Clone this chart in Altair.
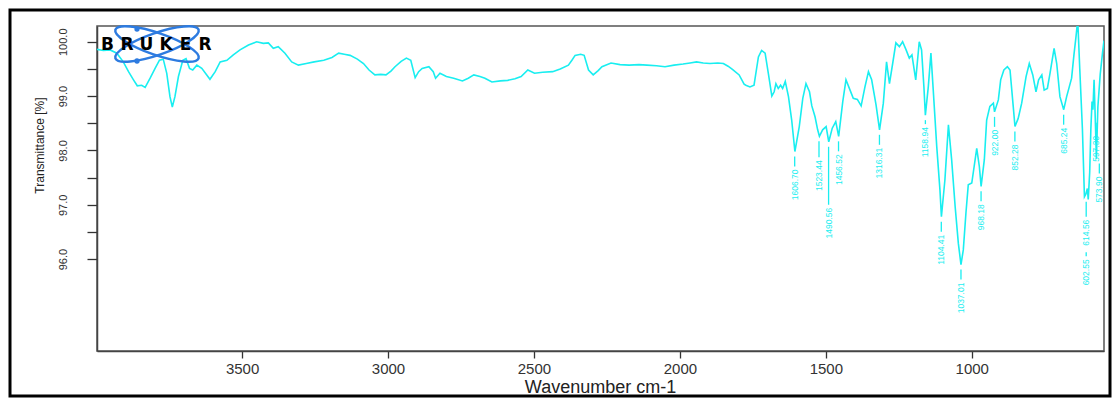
import altair as alt
import pandas as pd

# ---------------- data ----------------
wavenumber = [
    3997, 3975, 3952, 3929, 3907, 3889, 3872, 3859, 3844, 3832, 3815, 3798, 3783, 3770,
    3758, 3747, 3739, 3730, 3718, 3703, 3692, 3680, 3669, 3655, 3638, 3610, 3592, 3575,
    3552, 3530, 3507, 3478, 3450, 3427, 3410, 3393, 3376, 3353, 3330, 3307, 3280, 3253,
    3220, 3192, 3169, 3150, 3130, 3105, 3084, 3065, 3045, 3025, 3007, 2990, 2976, 2955,
    2937, 2922, 2907, 2895, 2883, 2860, 2845, 2837, 2822, 2800, 2775, 2745, 2725, 2706,
    2685, 2668, 2644, 2615, 2590, 2565, 2544, 2521, 2498, 2470, 2436, 2410, 2382, 2370,
    2359, 2340, 2328, 2313, 2297, 2280, 2267, 2236, 2205, 2174, 2140, 2113, 2080, 2051,
    2020, 1989, 1965, 1943, 1920, 1897, 1870, 1851, 1835, 1820, 1797, 1780, 1774, 1760,
    1746, 1731, 1720, 1708, 1697, 1685,
    1677, 1671, 1663, 1655, 1648, 1639, 1628, 1617, 1606, 1591, 1579, 1568, 1556, 1548,
    1537, 1528, 1522, 1511, 1499, 1490, 1478, 1466, 1456, 1442, 1431, 1417, 1406, 1392,
    1379, 1366, 1354, 1343, 1328, 1316, 1303, 1292, 1282, 1271, 1260, 1248, 1237, 1225,
    1214, 1205, 1192, 1180, 1172, 1164, 1159, 1149, 1140, 1132, 1120, 1109, 1104, 1092,
    1080, 1069, 1057, 1046, 1037, 1029, 1020, 1012, 1000, 992, 983, 974, 968, 957,
    949, 938, 926, 922, 909, 901, 890, 878, 869, 858, 852, 841, 829, 814,
    803, 791, 780, 771, 760, 752, 741, 732, 718, 709, 698, 685, 675, 666,
    658, 650, 643, 637, 630, 621, 614, 609, 604, 601, 596, 592, 588, 585,
    581, 577, 573, 568, 560, 552, 547,
]
transmittance = [
    99.86, 99.84, 99.85, 99.79, 99.63, 99.45, 99.30, 99.19, 99.20, 99.16, 99.33, 99.51, 99.66, 99.68,
    99.42, 98.99, 98.80, 98.99, 99.36, 99.66, 99.69, 99.51, 99.48, 99.57, 99.51, 99.31, 99.45, 99.63,
    99.66, 99.76, 99.85, 99.94, 100.00, 99.97, 99.98, 99.88, 99.91, 99.79, 99.63, 99.57, 99.60, 99.63,
    99.66, 99.71, 99.79, 99.77, 99.75, 99.68, 99.60, 99.48, 99.39, 99.40, 99.39, 99.46, 99.54, 99.64,
    99.70, 99.66, 99.34, 99.45, 99.51, 99.54, 99.45, 99.33, 99.42, 99.36, 99.33, 99.28, 99.33, 99.39,
    99.36, 99.33, 99.26, 99.28, 99.29, 99.32, 99.36, 99.48, 99.42, 99.44, 99.45, 99.50, 99.57, 99.66,
    99.75, 99.77, 99.75, 99.48, 99.39, 99.47, 99.54, 99.61, 99.58, 99.57, 99.58, 99.57, 99.56, 99.54,
    99.57, 99.59, 99.61, 99.63, 99.61, 99.60, 99.61, 99.60, 99.55, 99.49, 99.39, 99.22, 99.20, 99.17,
    99.20, 99.72, 99.84, 99.79, 99.42, 99.00,
    99.08, 99.23, 99.14, 99.20, 99.14, 99.27, 98.99, 98.56, 97.98, 98.44, 98.96, 99.23, 99.08, 98.82,
    98.62, 98.38, 98.26, 98.38, 98.44, 98.16, 98.41, 98.53, 98.26, 98.90, 99.30, 99.11, 98.96, 98.94,
    98.82, 99.17, 99.45, 99.30, 98.84, 98.38, 98.87, 99.63, 99.23, 99.60, 99.98, 99.91, 100.00, 99.85,
    99.70, 99.76, 99.30, 100.00, 99.85, 99.17, 98.65, 99.17, 99.79, 99.11, 98.07, 97.27, 96.78, 97.46,
    98.47, 97.83, 96.97, 96.29, 95.90, 96.17, 96.85, 97.37, 97.40, 97.70, 98.04, 97.70, 97.34, 97.83,
    98.56, 98.81, 98.87, 98.71, 98.93, 99.30, 99.48, 99.54, 99.48, 98.81, 98.44, 98.59, 98.87, 99.36,
    99.60, 99.39, 99.08, 99.30, 99.39, 99.11, 99.14, 99.42, 99.88, 99.60, 98.99, 98.75, 98.99, 99.17,
    99.33, 99.76, 100.09, 100.40, 99.50, 98.40, 97.15, 97.20, 97.30, 97.10, 97.60, 98.40, 98.90, 98.75,
    99.30, 98.60, 97.85, 98.80, 99.40, 99.80, 100.02,
]

peak_text = ["1606.70", "1523.44", "1490.56", "1456.52", "1316.31", "1158.94", "1104.41",
             "1037.01", "968.18", "922.00", "852.28", "685.24", "614.56", "602.55",
             "597.30", "573.90"]
peak_wn = [1606.70, 1523.44, 1490.56, 1456.52, 1316.31, 1158.94, 1104.41,
           1037.01, 968.18, 922.00, 852.28, 685.24, 614.56, 602.55, 597.30, 573.90]
peak_T = [97.98, 98.26, 98.16, 98.26, 98.38, 98.65, 96.78,
          95.90, 97.34, 98.71, 98.44, 98.75, 97.15, 97.10, 98.60, 97.85]

x_ticks = [3500, 3000, 2500, 2000, 1500, 1000]
y_ticks = [96.0, 96.5, 97.0, 97.5, 98.0, 98.5, 99.0, 99.5, 100.0]

# ---------------- layout ----------------
X_MIN, X_MAX = 547, 3997
Y_MIN, Y_MAX = 94.31, 100.29
W, H = 1007, 325
PPU = H / (Y_MAX - Y_MIN)          # pixels per % transmittance
CYAN = "#19eef0"
FONT = "Liberation Sans"
X_TITLE = "Wavenumber cm-1"
Y_TITLE = "Transmittance [%]"

# crowded labels are moved sideways / further down, as in the reference
label_col = {"614.56": 608, "602.55": 608, "597.30": 574, "573.90": 563}
label_drop = {"1490.56": 66, "602.55": 60, "1158.94": 12, "1523.44": 24, "614.56": 23}
rule_start = {"602.55": 53}

rows = []
for t, w, T in zip(peak_text, peak_wn, peak_T):
    drop = label_drop.get(t, 18)
    r1 = rule_start.get(t, 5)
    rows.append({
        "txt": t,
        "lx": label_col.get(t, w),
        "ly": T - drop / PPU,
        "r1": T - r1 / PPU,
        "r2": T - (drop - 3) / PPU,
    })
peaks = pd.DataFrame(rows)
spec = pd.DataFrame({"wn": wavenumber, "T": transmittance})

xscale = alt.Scale(domain=[X_MIN, X_MAX], reverse=True, nice=False, zero=False)
yscale = alt.Scale(domain=[Y_MIN, Y_MAX], nice=False, zero=False)

xaxis = alt.Axis(values=x_ticks, format="d", grid=False,
                 labelFontSize=15, labelFont=FONT, labelColor="#333",
                 labelPadding=3, tickSize=7, tickWidth=1.3, tickColor="#333",
                 domainColor="#444", domainWidth=1.5,
                 titleFont=FONT, titleFontSize=18,
                 titleFontWeight="normal", titleColor="#222",
                 titleX=503, titleY=36, titleBaseline="middle")
yaxis = alt.Axis(values=y_ticks, grid=False,
                 labelExpr="datum.value % 1 == 0 ? format(datum.value, '.1f') : ''",
                 labelAngle=270, labelAlign="center", labelBaseline="bottom",
                 labelFontSize=11, labelFont=FONT, labelColor="#333",
                 labelPadding=19, tickSize=10, tickWidth=1.3, tickColor="#333",
                 domainColor="#444", domainWidth=1.5,
                 titleFont=FONT, titleFontSize=12,
                 titleFontWeight="normal", titleColor="#222", titleAngle=270,
                 titleX=-58, titleY=119, titleAlign="center",
                 titleBaseline="middle")

line = alt.Chart(spec).mark_line(color=CYAN, strokeWidth=1.6, clip=True).encode(
    x=alt.X("wn:Q", scale=xscale, axis=xaxis, title=X_TITLE),
    y=alt.Y("T:Q", scale=yscale, axis=yaxis, title=Y_TITLE),
)

rules = alt.Chart(peaks).mark_rule(color=CYAN, strokeWidth=1.3).encode(
    x=alt.X("lx:Q", scale=xscale, axis=xaxis, title=X_TITLE),
    y=alt.Y("r1:Q", scale=yscale, axis=yaxis, title=Y_TITLE),
    y2="r2:Q",
)

labels = alt.Chart(peaks).mark_text(
    angle=270, align="right", baseline="middle", fontSize=8.5, font=FONT, color=CYAN
).encode(
    x=alt.X("lx:Q", scale=xscale, axis=xaxis, title=X_TITLE),
    y=alt.Y("ly:Q", scale=yscale, axis=yaxis, title=Y_TITLE),
    text="txt:N",
)

one = pd.DataFrame({"a": [0]})

frame = alt.Chart(one).mark_rect(fillOpacity=0, stroke="black", strokeWidth=3).encode(
    x=alt.value(-87), x2=alt.value(1013), y=alt.value(-16), y2=alt.value(370)
)

ELLIPSE = ("M-1,0C-1,-0.138,-0.552,-0.25,0,-0.25C0.552,-0.25,1,-0.138,1,0"
           "C1,0.138,0.552,0.25,0,0.25C-0.552,0.25,-1,0.138,-1,0Z")
logo_layers = []
for ang in (19, 341):
    logo_layers.append(
        alt.Chart(one).mark_point(shape=ELLIPSE, size=7744, filled=False,
                                  stroke="#2d7be0", strokeWidth=2.5, angle=ang,
                                  opacity=1).encode(x=alt.value(60), y=alt.value(18))
    )
for yy in (3, 35):
    logo_layers.append(
        alt.Chart(one).mark_circle(size=28, color="#2d7be0", opacity=1).encode(
            x=alt.value(40), y=alt.value(yy))
    )
for i, ch in enumerate("BRUKER"):
    logo_layers.append(
        alt.Chart(one).mark_text(text=ch, fontSize=17, fontWeight="bold",
                                 font="DejaVu Sans", color="black",
                                 align="center", baseline="middle").encode(
            x=alt.value(10.5 + 19.5 * i), y=alt.value(19))
    )

chart = alt.layer(line, rules, labels, frame, *logo_layers).properties(
    width=W, height=H,
    autosize=alt.AutoSizeParams(type="none"),
    padding={"left": 89, "top": 18, "right": 8, "bottom": 47},
    background="white",
).configure_view(stroke="#555", strokeWidth=1.5)

chart.save("out.html", embed_options={"renderer": "svg", "actions": False})
